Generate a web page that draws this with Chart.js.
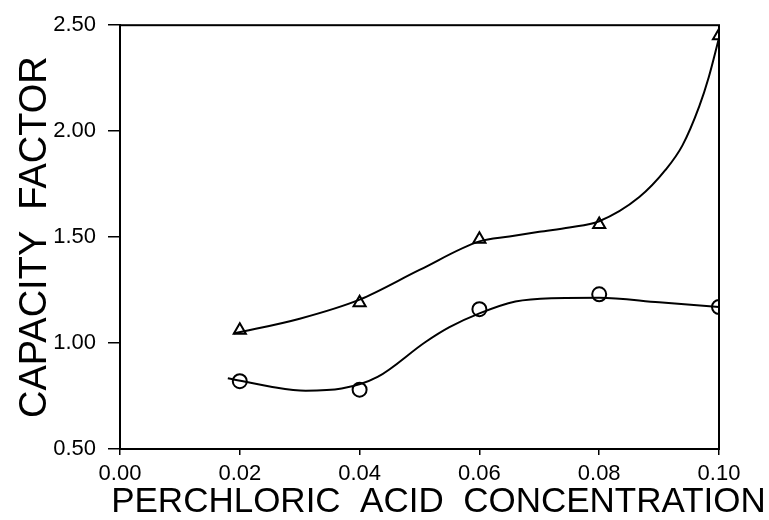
<!DOCTYPE html>
<html>
<head>
<meta charset="utf-8">
<script src="https://cdn.jsdelivr.net/npm/chart.js@4"></script>
<style>
  html, body { margin: 0; padding: 0; background: #fff; }
  #wrap { width: 769px; height: 520px; }
</style>
</head>
<body>
<div id="wrap"><canvas id="grafico" width="769" height="520"></canvas></div>
<script>
// Pontos medidos
const concentracoes = [0.02, 0.04, 0.06, 0.08, 0.10];
const triangulos = [1.06, 1.19, 1.49, 1.56, 2.45];
const circulos = [0.82, 0.78, 1.16, 1.23, 1.17];

// Curvas ajustadas
const curvaTrianguloX = [0.019, 0.03, 0.04, 0.05, 0.06, 0.065, 0.07, 0.075, 0.08, 0.0867, 0.0911, 0.0939, 0.0967, 0.0983, 0.10];
const curvaTrianguloY = [1.045, 1.115, 1.205, 1.345, 1.48, 1.503, 1.525, 1.545, 1.575, 1.689, 1.818, 1.933, 2.117, 2.256, 2.44];
const curvaCirculoX = [0.018, 0.025, 0.031, 0.037, 0.043, 0.051, 0.055, 0.06, 0.066, 0.072, 0.08, 0.09, 0.10];
const curvaCirculoY = [0.834, 0.795, 0.775, 0.785, 0.84, 1.005, 1.075, 1.14, 1.196, 1.212, 1.214, 1.192, 1.17];

const ticksX = [0, 0.02, 0.04, 0.06, 0.08, 0.10];
const ticksY = [0.5, 1.0, 1.5, 2.0, 2.5];

const tituloX = 'PERCHLORIC  ACID  CONCENTRATION';
const tituloY = 'CAPACITY  FACTOR';

const fonte = "'Liberation Sans', Arial, sans-serif";

function pares(xs, ys) {
  return xs.map((x, i) => ({ x: x, y: ys[i] }));
}

// moldura em volta da área do gráfico + título do eixo x
// (o título do eixo do Chart.js é comprimido à largura da escala)
const moldura = {
  id: 'moldura',
  afterDatasetsDraw(chart) {
    const a = chart.chartArea;
    const ctx = chart.ctx;
    ctx.save();
    ctx.strokeStyle = '#000';
    ctx.lineWidth = 2;
    ctx.strokeRect(a.left, a.top, a.right - a.left, a.bottom - a.top);
    ctx.restore();
  },
  afterDraw(chart) {
    const a = chart.chartArea;
    const ctx = chart.ctx;
    ctx.save();
    ctx.fillStyle = '#000';
    ctx.font = '35px ' + fonte;
    ctx.textAlign = 'center';
    ctx.textBaseline = 'alphabetic';
    ctx.fillText(tituloX, (a.left + a.right) / 2 + 19, a.bottom + 63);
    ctx.restore();
  }
};

new Chart(document.getElementById('grafico').getContext('2d'), {
  type: 'scatter',
  data: {
    datasets: [
      {
        type: 'line',
        data: pares(curvaTrianguloX, curvaTrianguloY),
        borderColor: '#000',
        borderWidth: 2,
        pointRadius: 0,
        cubicInterpolationMode: 'monotone',
        fill: false
      },
      {
        type: 'line',
        data: pares(curvaCirculoX, curvaCirculoY),
        borderColor: '#000',
        borderWidth: 2,
        pointRadius: 0,
        cubicInterpolationMode: 'monotone',
        fill: false
      },
      {
        data: pares(concentracoes, triangulos),
        pointStyle: 'triangle',
        pointRadius: 7,
        backgroundColor: '#fff',
        borderColor: '#000',
        borderWidth: 2
      },
      {
        data: pares(concentracoes, circulos),
        pointStyle: 'circle',
        pointRadius: 7,
        backgroundColor: 'rgba(255,255,255,0)',
        borderColor: '#000',
        borderWidth: 2
      }
    ]
  },
  options: {
    responsive: false,
    animation: false,
    layout: { padding: { top: 14, right: 50, left: 0, bottom: 0 } },
    plugins: {
      legend: { display: false },
      tooltip: { enabled: false }
    },
    scales: {
      x: {
        type: 'linear',
        min: 0,
        max: 0.10,
        afterBuildTicks(scale) {
          scale.ticks = ticksX.map(v => ({ value: v }));
        },
        afterFit(scale) { scale.height = 71; },
        border: { display: true, color: '#000', width: 2 },
        grid: { drawOnChartArea: false, drawTicks: true, tickLength: 6, color: '#000', lineWidth: 1.5 },
        ticks: {
          color: '#000',
          padding: 6,
          font: { family: fonte, size: 22 },
          callback: v => v.toFixed(2)
        },
        title: { display: false }
      },
      y: {
        type: 'linear',
        min: 0.5,
        max: 2.5,
        afterBuildTicks(scale) {
          scale.ticks = ticksY.map(v => ({ value: v }));
        },
        afterFit(scale) { scale.width = 120; },
        border: { display: true, color: '#000', width: 2 },
        grid: { drawOnChartArea: false, drawTicks: true, tickLength: 12, color: '#000', lineWidth: 1.5 },
        ticks: {
          color: '#000',
          padding: 12,
          font: { family: fonte, size: 22 },
          callback: v => v.toFixed(2)
        },
        title: {
          display: true,
          text: tituloY,
          color: '#000',
          font: { family: fonte, size: 38 },
          padding: { top: 13, bottom: 0 }
        }
      }
    }
  },
  plugins: [moldura]
});
</script>
</body>
</html>
